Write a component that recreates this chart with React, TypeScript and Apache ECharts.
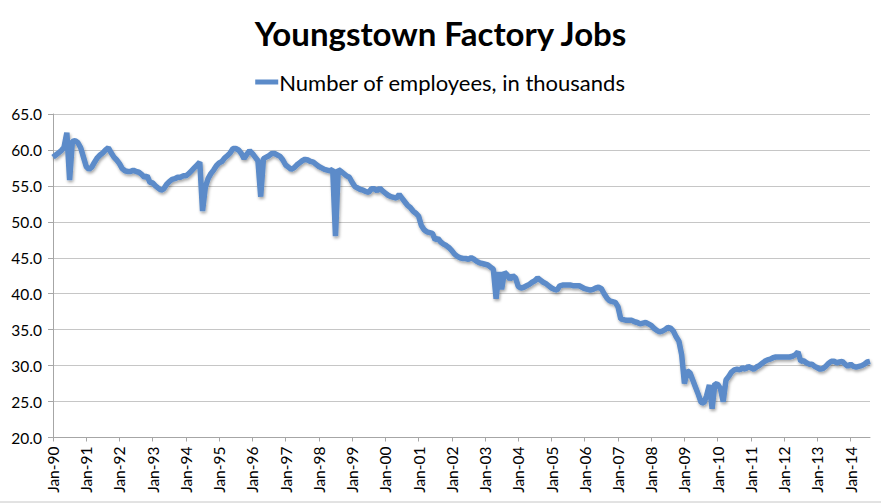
import React, { useEffect, useRef } from "react";
import * as echarts from "echarts";

const TITLE = "Youngstown Factory Jobs";
const SERIES_NAME = "Number of employees, in thousands";
const YEAR_LABELS = ["90","91","92","93","94","95","96","97","98","99","00","01","02","03","04","05","06","07","08","09","10","11","12","13","14"];
const MONTH_NAMES = ["Jan","Feb","Mar","Apr","May","Jun","Jul","Aug","Sep","Oct","Nov","Dec"];

const jobs1990 = [59.0, 59.3, 59.6, 59.9, 60.4, 62.4, 55.8, 61.2, 61.3, 61.0, 60.3, 59.0];
const jobs1991 = [57.7, 57.3, 57.6, 58.3, 58.9, 59.3, 59.6, 60.0, 60.3, 59.6, 59.0, 58.6];
const jobs1992 = [58.1, 57.4, 57.1, 57.0, 57.0, 57.2, 57.0, 56.9, 56.6, 56.2, 56.4, 55.5];
const jobs1993 = [55.4, 55.0, 54.7, 54.4, 54.6, 55.2, 55.6, 55.9, 56.0, 56.2, 56.2, 56.4];
const jobs1994 = [56.4, 56.7, 57.1, 57.5, 57.9, 58.3, 51.5, 54.8, 56.0, 56.7, 57.2, 57.8];
const jobs1995 = [58.2, 58.4, 58.9, 59.2, 59.6, 60.2, 60.2, 60.0, 59.5, 58.8, 59.4, 59.9];
const jobs1996 = [59.5, 59.0, 58.5, 53.5, 58.8, 59.0, 59.2, 59.5, 59.5, 59.3, 59.1, 58.6];
const jobs1997 = [57.9, 57.6, 57.3, 57.5, 57.9, 58.2, 58.5, 58.7, 58.6, 58.4, 58.3, 58.0];
const jobs1998 = [57.7, 57.5, 57.3, 57.2, 57.1, 57.3, 48.0, 57.3, 57.0, 56.7, 56.4, 56.2];
const jobs1999 = [55.5, 54.9, 54.7, 54.5, 54.4, 54.2, 54.1, 54.6, 54.6, 54.3, 54.7, 54.3];
const jobs2000 = [54.0, 53.7, 53.5, 53.4, 53.3, 53.8, 53.3, 52.8, 52.3, 52.0, 51.5, 51.2];
const jobs2001 = [50.8, 49.5, 48.9, 48.6, 48.5, 48.4, 47.5, 47.7, 47.2, 46.9, 46.7, 46.4];
const jobs2002 = [46.0, 45.5, 45.2, 45.0, 44.9, 44.9, 44.8, 45.0, 44.8, 44.5, 44.3, 44.2];
const jobs2003 = [44.1, 44.0, 43.7, 43.4, 39.3, 43.0, 40.6, 43.0, 42.6, 42.0, 42.5, 42.2];
const jobs2004 = [41.0, 40.8, 40.9, 41.1, 41.3, 41.6, 41.8, 42.2, 41.9, 41.6, 41.4, 41.1];
const jobs2005 = [40.8, 40.6, 40.5, 41.1, 41.2, 41.2, 41.2, 41.2, 41.1, 41.1, 41.1, 40.9];
const jobs2006 = [40.7, 40.6, 40.5, 40.6, 40.8, 40.9, 40.7, 40.0, 39.4, 39.0, 38.9, 38.8];
const jobs2007 = [38.2, 36.5, 36.4, 36.3, 36.3, 36.3, 36.1, 36.0, 35.8, 35.9, 36.0, 35.8];
const jobs2008 = [35.6, 35.2, 34.9, 34.7, 34.8, 35.0, 35.3, 35.2, 34.8, 34.0, 33.4, 31.5];
const jobs2009 = [27.5, 29.3, 29.0, 28.0, 27.0, 26.0, 24.9, 24.8, 25.8, 27.3, 24.0, 27.5];
const jobs2010 = [27.4, 26.8, 25.0, 28.0, 28.5, 29.1, 29.4, 29.5, 29.4, 29.7, 29.5, 29.9];
const jobs2011 = [29.7, 29.5, 29.8, 30.0, 30.3, 30.6, 30.8, 30.9, 31.1, 31.2, 31.2, 31.2];
const jobs2012 = [31.2, 31.2, 31.2, 31.3, 31.5, 31.9, 30.6, 30.7, 30.4, 30.2, 30.2, 29.9];
const jobs2013 = [29.7, 29.5, 29.6, 29.9, 30.3, 30.6, 30.6, 30.4, 30.5, 30.6, 30.2, 29.9];
const jobs2014 = [30.2, 29.9, 29.8, 29.9, 30.0, 30.2, 30.5, 30.6];

const Y_MIN = 20;
const Y_MAX = 65;
const Y_STEP = 5;

const ALL_VALUES = [
  jobs1990, jobs1991, jobs1992, jobs1993, jobs1994, jobs1995, jobs1996, jobs1997,
  jobs1998, jobs1999, jobs2000, jobs2001, jobs2002, jobs2003, jobs2004, jobs2005,
  jobs2006, jobs2007, jobs2008, jobs2009, jobs2010, jobs2011, jobs2012, jobs2013, jobs2014,
];

const FONT = "Lato, 'Open Sans', sans-serif";

export default function App() {
  const ref = useRef<HTMLDivElement>(null);
  useEffect(() => {
    if (!ref.current) return;
    const chart = echarts.init(ref.current, null, { renderer: "svg" });
    const categories: string[] = [];
    const values: number[] = [];
    ALL_VALUES.forEach((arr, yi) => {
      arr.forEach((v, mi) => {
        categories.push(MONTH_NAMES[mi] + "-" + YEAR_LABELS[yi]);
        values.push(v);
      });
    });
    chart.setOption({
      animation: false,
      backgroundColor: "#ffffff",
      title: {
        text: TITLE,
        left: "center",
        top: 11,
        textStyle: { fontFamily: FONT, fontWeight: "bold", fontSize: 33, color: "#000" },
      },
      legend: {
        data: [SERIES_NAME],
        top: 66,
        left: "center",
        icon: "rect",
        itemWidth: 23,
        itemHeight: 5,
        itemGap: 0,
        textStyle: { fontFamily: FONT, fontSize: 22, color: "#000", padding: [0, 0, 0, -4] },
      },
      grid: { left: 53, right: 11, top: 114, bottom: 66.5, containLabel: false },
      xAxis: {
        type: "category",
        data: categories,
        boundaryGap: false,
        axisLine: { lineStyle: { color: "#a6a6a6", width: 1 } },
        axisTick: {
          show: true,
          interval: (i: number) => i % 12 === 0,
          length: 4,
          lineStyle: { color: "#a6a6a6" },
        },
        axisLabel: {
          interval: (i: number) => i % 12 === 0,
          rotate: 90,
          margin: 9,
          fontFamily: FONT,
          fontSize: 15.5,
          color: "#000",
        },
        splitLine: { show: false },
      },
      yAxis: {
        type: "value",
        min: Y_MIN,
        max: Y_MAX,
        interval: Y_STEP,
        axisLine: { show: true, lineStyle: { color: "#a6a6a6", width: 1 } },
        axisTick: { show: true, length: 5, lineStyle: { color: "#a6a6a6" } },
        axisLabel: {
          fontFamily: FONT,
          fontSize: 15.5,
          color: "#000",
          margin: 11,
          formatter: (v: number) => v.toFixed(1),
        },
        splitLine: { lineStyle: { color: "#c6c6c6", width: 1 } },
      },
      graphic: [
        {
          type: "line",
          shape: { x1: 0, y1: 502, x2: 881, y2: 502 },
          style: { stroke: "#c6c6c6", lineWidth: 1 },
        },
      ],
      series: [
        {
          name: SERIES_NAME,
          type: "line",
          data: values,
          showSymbol: false,
          symbol: "none",
          color: "#5b8bc9",
          lineStyle: {
            color: "#5b8bc9",
            width: 5.5,
            shadowColor: "rgba(0,0,0,0.35)",
            shadowBlur: 3,
            shadowOffsetX: 1,
            shadowOffsetY: 2,
          },
        },
      ],
    });
    return () => chart.dispose();
  }, []);
  return <div ref={ref} style={{ width: 881, height: 504, position: "absolute", left: 0, top: 0 }} />;
}
